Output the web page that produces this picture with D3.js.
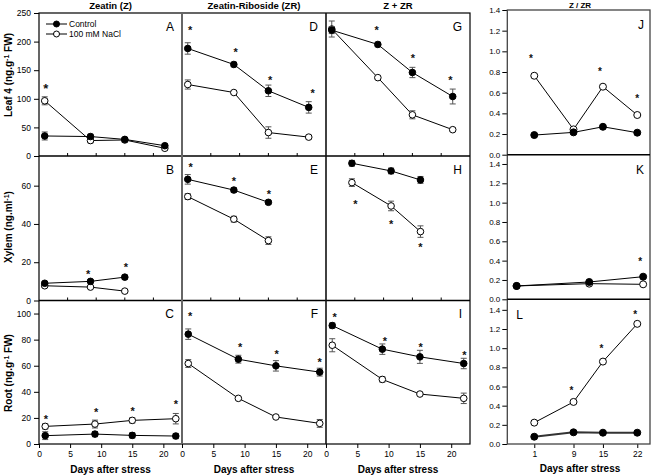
<!DOCTYPE html>
<html><head><meta charset="utf-8">
<script src="https://cdn.jsdelivr.net/npm/d3@7"></script>
<style>
body{margin:0;background:#fff}
svg{display:block;font-family:"Liberation Sans",Arial,sans-serif}
</style></head>
<body><svg id="c" width="653" height="475"></svg>
<script>
// ---------------- DATA ----------------
const days = [1, 9, 15, 22];
const days3 = [1, 9, 15];
const daysH = [4.5, 11.3, 16.4];
const daysK = [-2.6, 12.2, 23.2];

// A: Zeatin, leaf 4
const A_ctrl = [35, 34, 29, 18], A_ctrlErr = [7, 4, 3, 3];
const A_nacl = [96.5, 27, 28, 13.5], A_naclErr = [7, 4, 4, 3];
const A_stars = [[1.2, 123]];
// D: Zeatin-riboside, leaf 4
const D_ctrl = [188, 160, 114, 85], D_ctrlErr = [10, 4, 10, 10];
const D_nacl = [125, 111, 41, 33], D_naclErr = [8, 2, 10, 3];
const D_stars = [[1.4, 224], [9.3, 185], [15.3, 137], [22.7, 114]];
// G: Z + ZR, leaf 4
const G_ctrl = [220, 195, 146, 104], G_ctrlErr = [6, 4, 9, 13];
const G_nacl = [222, 137, 72, 46], G_naclErr = [14, 2, 7, 3];
const G_stars = [[8.8, 224], [15.1, 175], [21.6, 137]];
// B: Zeatin, xylem
const B_ctrl = [9, 10, 12.2], B_ctrlErr = [0.8, 0.8, 1];
const B_nacl = [7.7, 7, 4.9], B_naclErr = [0.8, 0.6, 0.8];
const B_stars = [[8.6, 14.8], [15.2, 18.6]];
// E: Zeatin-riboside, xylem
const E_ctrl = [63.3, 57.7, 51.3], E_ctrlErr = [2.5, 1.2, 1];
const E_nacl = [54.3, 42.5, 31.3], E_naclErr = [1.5, 1.5, 2];
const E_stars = [[1.5, 70.8], [9, 63.3], [15.1, 56.5]];
// H: Z + ZR, xylem
const H_ctrl = [71.7, 67.7, 63], H_ctrlErr = [1.5, 1.5, 1.8];
const H_nacl = [61.6, 49.4, 36], H_naclErr = [2, 2.5, 3];
const H_stars = [[5.1, 51.7], [11.3, 41], [16.4, 29.2]];
// C: Zeatin, root
const C_ctrl = [6.4, 7.6, 6.6, 6.1], C_ctrlErr = [3, 2, 2, 2];
const C_nacl = [13.5, 15.3, 18.1, 19.4], C_naclErr = [2, 3, 2, 4];
const C_stars = [[1.1, 21], [9.2, 26], [15.05, 26.8], [22, 32]];
// F: Zeatin-riboside, root
const F_ctrl = [84.2, 65, 59.9, 55.1], F_ctrlErr = [4, 3, 4, 3];
const F_nacl = [61.7, 35, 20.7, 15.8], F_naclErr = [3, 0.8, 1, 3];
const F_stars = [[1.3, 99.5], [9.3, 76.3], [15.1, 70.6], [22, 64.8]];
// I: Z + ZR, root
const I_ctrl = [90.8, 72.7, 66.8, 61.7], I_ctrlErr = [2, 4, 5, 4];
const I_nacl = [75.7, 49.5, 38.3, 35], I_naclErr = [5, 2, 1, 4];
const I_stars = [[1.4, 98.7], [9.4, 80.9], [15.1, 75.7], [22.1, 69.9]];
// J, K, L: Z / ZR ratio
const J_ctrl = [0.19, 0.216, 0.27, 0.213];
const J_nacl = [0.764, 0.245, 0.658, 0.384];
const J_stars = [[0.3, 0.948], [14.4, 0.826], [22, 0.56]];
const K_ctrl = [0.138, 0.179, 0.234];
const K_nacl = [0.138, 0.162, 0.155];
const K_stars = [[22.6, 0.407]];
const L_ctrl = [0.076, 0.122, 0.118, 0.118];
const L_nacl = [0.223, 0.439, 0.86, 1.254];
const L_stars = [[8.6, 0.575], [14.7, 1.017], [21.6, 1.376]];

const colTitles = ["Zeatin (Z)", "Zeatin-Riboside (ZR)", "Z + ZR"];
const leafTicks = [0, 50, 100, 150, 200, 250];
const xylemTicks = [0, 20, 40, 60];
const rootTicks = [0, 20, 40, 60, 80, 100];
const bottomXTicks = [0, 5, 10, 15, 20];
const topXTicks = [5, 10, 15, 20];
const ratioTicks = [0, 0.2, 0.4, 0.6, 0.8, 1.0, 1.2, 1.4];
const ratioXTicks = [1, 9, 15, 22];

// ---------------- LAYOUT ----------------
const svg = d3.select("#c");
const colX = [39, 182, 326, 470];
const rowY = [13, 156, 300.5, 444];
const FONT = '"Liberation Sans",Arial,sans-serif';

const yLeaf = d3.scaleLinear().domain([0, 250]).range([rowY[1], rowY[0]]);
const yXylem = d3.scaleLinear().domain([0, 75.5]).range([rowY[2], rowY[1]]);
const yRoot = d3.scaleLinear().domain([0, 110]).range([rowY[3], rowY[2]]);
const yScales = [yLeaf, yXylem, yRoot];

function xScaleFor(col, row) {
  const dom = row < 2 ? [0, 25] : [0, 23];
  return d3.scaleLinear().domain(dom).range([colX[col], colX[col + 1]]);
}

function star(g, x, y, size) {
  g.append("text").attr("x", x).attr("y", y + size * 0.55)
    .attr("text-anchor", "middle").attr("font-size", size).attr("font-weight", "bold")
    .attr("fill", "#111").text("*");
}

function drawSeries(g, xs, ys, xv, vals, errs, filled, r, lineStyle) {
  const line = d3.line().x((d, i) => xs(xv[i])).y(d => ys(d));
  g.append("path").datum(vals).attr("d", line).attr("fill", "none")
    .attr("stroke", lineStyle ? lineStyle.c : "#000").attr("stroke-width", lineStyle ? lineStyle.w : 1);
  if (errs) {
    vals.forEach((v, i) => {
      const x = xs(xv[i]);
      const y1 = ys(v - errs[i]), y2 = ys(v + errs[i]);
      g.append("line").attr("x1", x).attr("x2", x).attr("y1", y1).attr("y2", y2).attr("stroke", "#555").attr("stroke-width", 1);
      [y1, y2].forEach(yy => g.append("line").attr("x1", x - 3).attr("x2", x + 3).attr("y1", yy).attr("y2", yy).attr("stroke", "#555").attr("stroke-width", 1));
    });
  }
  g.selectAll(null).data(vals).enter().append("circle")
    .attr("cx", (d, i) => xs(xv[i])).attr("cy", d => ys(d)).attr("r", r)
    .attr("fill", filled ? "#000" : "#fff").attr("stroke", "#000").attr("stroke-width", 1);
}

const panels = [
  {col: 0, row: 0, L: "A", xv: days, c: A_ctrl, ce: A_ctrlErr, n: A_nacl, ne: A_naclErr, s: A_stars, sz: 13},
  {col: 1, row: 0, L: "D", xv: days, c: D_ctrl, ce: D_ctrlErr, n: D_nacl, ne: D_naclErr, s: D_stars, sz: 11},
  {col: 2, row: 0, L: "G", xv: days, c: G_ctrl, ce: G_ctrlErr, n: G_nacl, ne: G_naclErr, s: G_stars, sz: 11},
  {col: 0, row: 1, L: "B", xv: days3, c: B_ctrl, ce: B_ctrlErr, n: B_nacl, ne: B_naclErr, s: B_stars, sz: 11},
  {col: 1, row: 1, L: "E", xv: days3, c: E_ctrl, ce: E_ctrlErr, n: E_nacl, ne: E_naclErr, s: E_stars, sz: 11},
  {col: 2, row: 1, L: "H", xv: daysH, c: H_ctrl, ce: H_ctrlErr, n: H_nacl, ne: H_naclErr, s: H_stars, sz: 11},
  {col: 0, row: 2, L: "C", xv: days, c: C_ctrl, ce: C_ctrlErr, n: C_nacl, ne: C_naclErr, s: C_stars, sz: 11},
  {col: 1, row: 2, L: "F", xv: days, c: F_ctrl, ce: F_ctrlErr, n: F_nacl, ne: F_naclErr, s: F_stars, sz: 11},
  {col: 2, row: 2, L: "I", xv: days, c: I_ctrl, ce: I_ctrlErr, n: I_nacl, ne: I_naclErr, s: I_stars, sz: 11},
];

panels.forEach(p => {
  const g = svg.append("g");
  const xs = xScaleFor(p.col, p.row), ys = yScales[p.row];
  // ticks on bottom edge
  if (p.row < 2) {
    topXTicks.forEach(t => g.append("line").attr("x1", xs(t)).attr("x2", xs(t))
      .attr("y1", rowY[p.row + 1]).attr("y2", rowY[p.row + 1] - 3).attr("stroke", "#000"));
  } else {
    const ax = g.append("g").attr("transform", `translate(0,${rowY[3]})`)
      .call(d3.axisBottom(xs).tickValues(bottomXTicks).tickSize(4).tickPadding(3).tickFormat(d3.format("d")));
    ax.select(".domain").remove();
    ax.selectAll("text").attr("font-size", 8.5).attr("font-family", FONT).attr("fill", "#000");
  }
  drawSeries(g, xs, ys, p.xv, p.n, p.ne, false, 3.3);
  drawSeries(g, xs, ys, p.xv, p.c, p.ce, true, 3.3);
  p.s.forEach(([sx, sy]) => star(g, xs(sx), ys(sy), p.sz));
  g.append("text").attr("x", colX[p.col + 1] - 8).attr("y", rowY[p.row] + 17.5)
    .attr("text-anchor", "end").attr("font-size", 12).text(p.L);
});

// left axes
[[yLeaf, leafTicks], [yXylem, xylemTicks], [yRoot, rootTicks]].forEach(([ys, tv]) => {
  const ax = svg.append("g").attr("transform", `translate(${colX[0]},0)`)
    .call(d3.axisLeft(ys).tickValues(tv).tickSize(5).tickPadding(3).tickFormat(d3.format("d")));
  ax.select(".domain").remove();
  ax.selectAll("text").attr("font-size", 8.5).attr("font-family", FONT).attr("fill", "#000");
});

// frames
const frame = svg.append("g").attr("fill", "none");
frame.append("rect").attr("x", colX[0]).attr("y", rowY[0]).attr("width", colX[3] - colX[0]).attr("height", rowY[3] - rowY[0]).attr("stroke", "#000").attr("stroke-width", 1.2);
[rowY[1], rowY[2]].forEach(y => frame.append("line").attr("x1", colX[0]).attr("x2", colX[3]).attr("y1", y).attr("y2", y).attr("stroke", "#000").attr("stroke-width", 1.3));
frame.append("line").attr("x1", colX[1]).attr("x2", colX[1]).attr("y1", rowY[0]).attr("y2", rowY[3]).attr("stroke", "#666").attr("stroke-width", 2);
frame.append("line").attr("x1", colX[2]).attr("x2", colX[2]).attr("y1", rowY[0]).attr("y2", rowY[3]).attr("stroke", "#111").attr("stroke-width", 1.6);

// column titles
colTitles.forEach((t, i) => svg.append("text").attr("x", (colX[i] + colX[i + 1]) / 2).attr("y", 9)
  .attr("text-anchor", "middle").attr("font-size", 9.5).attr("font-weight", "bold").text(t));

// bottom x titles
[0, 1, 2].forEach(i => svg.append("text").attr("x", (colX[i] + colX[i + 1]) / 2).attr("y", 472.5)
  .attr("text-anchor", "middle").attr("font-size", 10).attr("font-weight", "bold").text("Days after stress"));

// y titles
function yTitle(cx, cy, main, sup, tail) {
  const t = svg.append("text").attr("transform", `translate(${cx},${cy}) rotate(-90)`)
    .attr("text-anchor", "middle").attr("font-size", 10).attr("font-weight", "bold");
  t.append("tspan").text(main);
  if (sup) {
    t.append("tspan").attr("font-size", 7).attr("baseline-shift", "super").text(sup);
    t.append("tspan").text(tail);
  }
}
yTitle(12, 75, "Leaf 4 (ng.g", "-1", " FW)");
yTitle(12, 227, "Xylem (ng.ml", "-1", ")");
yTitle(12, 373, "Root (ng.g", "-1", " FW)");

// legend
const lg = svg.append("g");
[["Control", true, 24], ["100 mM NaCl", false, 34]].forEach(([lab, f, y]) => {
  lg.append("line").attr("x1", 46).attr("x2", 67).attr("y1", y).attr("y2", y).attr("stroke", "#000");
  lg.append("circle").attr("cx", 56.5).attr("cy", y).attr("r", 3).attr("fill", f ? "#000" : "#fff").attr("stroke", "#000");
  lg.append("text").attr("x", 69).attr("y", y + 3).attr("font-size", 8.5).text(lab);
});

// ---------------- right ratio panels ----------------
const rx0 = 507.3, rx1 = 651;
const xr = d3.scaleLinear().domain([-4.5, 24.8]).range([rx0, rx1]);
const rPanels = [
  {L: "J", top: 10, bot: 154.7, dom: 1.4, xv: days, c: J_ctrl, n: J_nacl, s: J_stars, lp: "right"},
  {L: "K", top: 154.7, bot: 299.3, dom: 1.496, xv: daysK, c: K_ctrl, n: K_nacl, s: K_stars, lp: "right"},
  {L: "L", top: 299.3, bot: 444, dom: 1.51, xv: days, c: L_ctrl, n: L_nacl, s: L_stars, lp: "left", thick: true},
];
rPanels.forEach(p => {
  const g = svg.append("g");
  const ys = d3.scaleLinear().domain([0, p.dom]).range([p.bot, p.top]);
  const ax = g.append("g").attr("transform", `translate(${rx0},0)`)
    .call(d3.axisLeft(ys).tickValues(ratioTicks).tickSize(5).tickPadding(2).tickFormat(d3.format(".1f")));
  ax.select(".domain").remove();
  ax.selectAll("text").attr("font-size", 8).attr("font-family", FONT).attr("fill", "#000");
  drawSeries(g, xr, ys, p.xv, p.n, null, false, 3.5);
  drawSeries(g, xr, ys, p.xv, p.c, null, true, 3.5, p.thick ? {c: "#333", w: 2} : null);
  p.s.forEach(([sx, sy]) => star(g, xr(sx), ys(sy), 10));
  if (p.lp === "right") g.append("text").attr("x", rx1 - 7).attr("y", p.top + 19).attr("text-anchor", "end").attr("font-size", 12).text(p.L);
  else g.append("text").attr("x", rx0 + 9).attr("y", p.top + 20).attr("font-size", 12).text(p.L);
  if (p.L === "L") {
    const bx = g.append("g").attr("transform", `translate(0,${p.bot})`)
      .call(d3.axisBottom(xr).tickValues(ratioXTicks).tickSize(4).tickPadding(3).tickFormat(d3.format("d")));
    bx.select(".domain").remove();
    bx.selectAll("text").attr("font-size", 8.5).attr("font-family", FONT).attr("fill", "#000");
  }
});
const rf = svg.append("g").attr("fill", "none");
rf.append("rect").attr("x", rx0).attr("y", 10).attr("width", rx1 - rx0 - 1).attr("height", 444 - 10).attr("stroke", "#444").attr("stroke-width", 1.3);
[154.7, 299.3].forEach(y => rf.append("line").attr("x1", rx0).attr("x2", rx1 - 1).attr("y1", y).attr("y2", y).attr("stroke", "#000").attr("stroke-width", 1.6));
svg.append("text").attr("x", 580).attr("y", 8).attr("text-anchor", "middle").attr("font-size", 8).attr("font-weight", "bold").text("Z / ZR");
svg.append("text").attr("x", 580).attr("y", 471.5).attr("text-anchor", "middle").attr("font-size", 10).attr("font-weight", "bold").text("Days after stress");
</script></body></html>
